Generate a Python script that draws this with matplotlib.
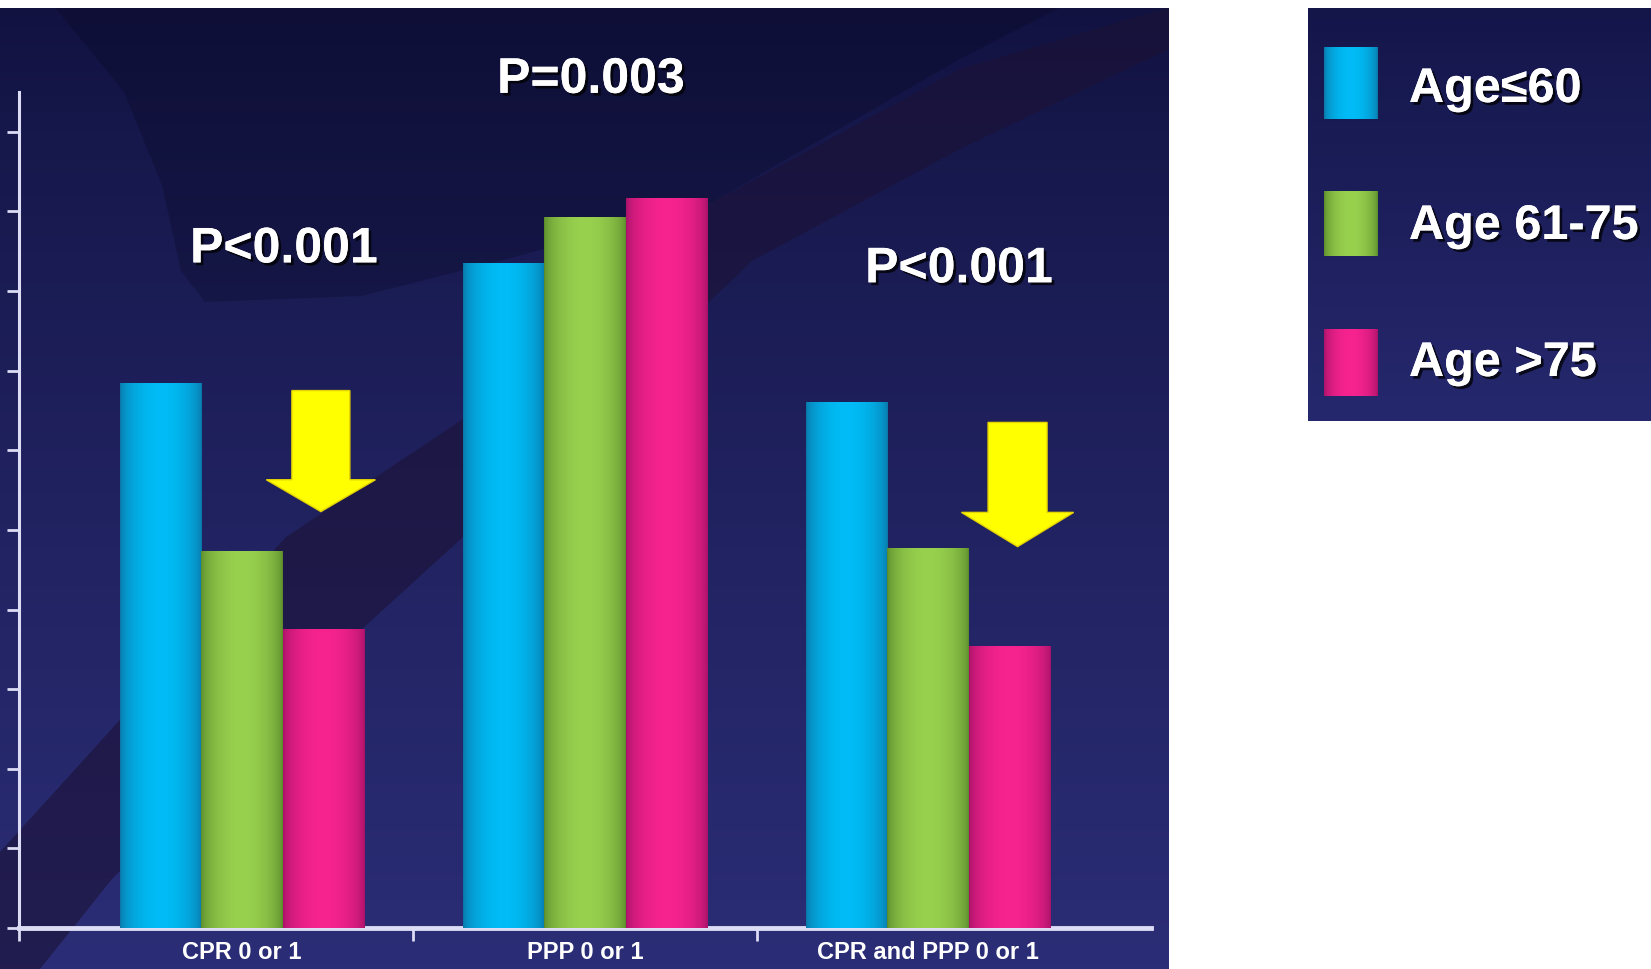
import numpy as np
import matplotlib
matplotlib.use("Agg")
import matplotlib.pyplot as plt
import matplotlib.patheffects as pe
from matplotlib.patches import Polygon, FancyArrow
from matplotlib.colors import to_rgb

W, H = 1651, 970

groups = ["CPR 0 or 1", "PPP 0 or 1", "CPR and PPP 0 or 1"]
age_labels = ["Age≤60", "Age 61-75", "Age >75"]
age_le60 = [68.4, 83.4, 66.0]
age_61_75 = [47.3, 89.2, 47.7]
age_gt75 = [37.5, 91.6, 35.3]
p_values = ["P<0.001", "P=0.003", "P<0.001"]

# (centre, edge) shade for each series, gives the rounded "cylinder" look
shades = [("#00bcf6", "#0a76a6"), ("#98d14e", "#5a8a2c"), ("#f7238f", "#a61268")]

FONT = ["Liberation Sans", "DejaVu Sans"]
TEXT_FX = [pe.withSimplePatchShadow(offset=(2, -2), shadow_rgbFace="black", alpha=0.75), pe.Normal()]
AXIS_COLOR = "#dcdcf5"


def cylinder(center, edge, n=96):
    t = np.linspace(0, 1, n)
    g = np.sin(np.pi * t) ** 0.55
    c_edge, c_mid = np.array(to_rgb(edge)), np.array(to_rgb(center))
    row = c_edge + (c_mid - c_edge) * g[:, None]
    return row[None, :, :]


def vertical_gradient(top, bottom, n=256, power=0.8):
    s = np.linspace(0, 1, n)[:, None] ** power
    a, b = np.array(to_rgb(top)), np.array(to_rgb(bottom))
    return (a + (b - a) * s)[:, None, :]


def draw_background(fig):
    # navy slide panel, pixel coordinates with y going down
    bg = fig.add_axes([0, 0, 1169 / W, (H - 8.5) / H], zorder=0)
    bg.set_xlim(0, 1169)
    bg.set_ylim(H, 8.5)
    bg.axis("off")
    bg.imshow(vertical_gradient("#111240", "#2b2d76"), extent=(0, 1169, H, 8.5), aspect="auto")

    # darker swooshes of the slide template
    top_shape = [(55, 8.5), (71, 28), (124, 93), (162, 186), (181, 272), (205, 303),
                 (361, 297), (500, 262), (711, 204), (960, 60), (1060, 8.5)]
    bg.add_patch(Polygon(top_shape, closed=True, facecolor="#07071f", alpha=0.28, lw=0))
    band = [(0, 853), (286, 538), (463, 420), (711, 204), (960, 70), (1169, 8.5),
            (1169, 50), (960, 150), (752, 262), (463, 538), (361, 631), (112, 880),
            (40, H), (0, H)]
    bg.add_patch(Polygon(band, closed=True, facecolor="#1c1236", alpha=0.6, lw=0))


def draw_bars(ax):
    x = np.arange(len(groups))
    width = 0.238
    offsets = [-width, 0.0, width]
    series = [age_le60, age_61_75, age_gt75]

    for i, values in enumerate(series):
        bars = ax.bar(x + offsets[i], values, width=width, color=shades[i][0],
                      linewidth=0, zorder=2, label=age_labels[i])
        # paint the shading over each bar
        for rect in bars:
            x0, w, h = rect.get_x(), rect.get_width(), rect.get_height()
            ax.imshow(cylinder(*shades[i]), extent=(x0, x0 + w, 0, h),
                      aspect="auto", interpolation="bilinear", zorder=3)


def draw_annotations(ax):
    # yellow arrows over the oldest group
    for xc, y_top, y_tip, shaft, head, head_len in [(0.230, 67.5, 52.3, 0.169, 0.318, 4.0),
                                                  (2.261, 63.5, 47.9, 0.172, 0.327, 4.3)]:
        ax.add_patch(FancyArrow(xc, y_top, 0, y_tip - y_top, width=shaft, head_width=head,
                                head_length=head_len, length_includes_head=True,
                                facecolor="#ffff00", edgecolor="#e6d400", lw=1, zorder=4))

    for (xt, yt), txt in zip([(0.122, 83.6), (1.017, 104.9), (2.09, 81.1)], p_values):
        ax.text(xt, yt, txt, ha="center", va="baseline", fontsize=36, weight="bold",
                color="white", family=FONT, path_effects=TEXT_FX, clip_on=False, zorder=5)


def draw_legend(fig):
    lg = fig.add_axes([1308 / W, (H - 422) / H, (W - 1308) / W, (422 - 8.5) / H], zorder=0)
    lg.set_xlim(1308, W)
    lg.set_ylim(422, 8.5)
    lg.axis("off")
    lg.imshow(vertical_gradient("#14164a", "#26286e", power=1.0),
              extent=(1308, W, 422, 8.5), aspect="auto")

    boxes = [(48, 120), (192, 257), (330, 397)]
    baselines = [103, 240, 377]
    for i, label in enumerate(age_labels):
        y0, y1 = boxes[i]
        lg.imshow(cylinder(*shades[i]), extent=(1324, 1378, y1, y0),
                  aspect="auto", interpolation="bilinear")
        lg.text(1409, baselines[i], label, ha="left", va="baseline", fontsize=35,
                weight="bold", color="white", family=FONT, path_effects=TEXT_FX)


def main():
    fig = plt.figure(figsize=(W / 100, H / 100), dpi=100, facecolor="white")
    draw_background(fig)

    ax = fig.add_axes([19 / W, (H - 929) / H, (1151 - 19) / W, (929 - 93) / H], zorder=1)
    ax.set_facecolor("none")

    draw_bars(ax)
    draw_annotations(ax)

    ax.set_xlim(-0.65, 2.65)
    ax.set_ylim(0, 105)

    for side in ["top", "right"]:
        ax.spines[side].set_visible(False)
    ax.spines["left"].set_color(AXIS_COLOR)
    ax.spines["left"].set_linewidth(2.2)
    ax.spines["bottom"].set_color(AXIS_COLOR)
    ax.spines["bottom"].set_linewidth(3.5)

    ax.set_yticks(np.arange(0, 101, 10))
    ax.tick_params(axis="y", direction="out", length=9, width=2, color=AXIS_COLOR, labelleft=False)

    ax.set_xticks([-0.65, 0.5, 1.5])
    ax.set_xticklabels([])
    ax.set_xticks(range(len(groups)), minor=True)
    ax.set_xticklabels(groups, minor=True)
    ax.tick_params(axis="x", which="major", direction="out", length=9, width=2, color=AXIS_COLOR)
    ax.tick_params(axis="x", which="minor", length=0, pad=9, labelsize=17, labelcolor="white")
    for lbl in ax.get_xticklabels(minor=True):
        lbl.set_fontweight("bold")
        lbl.set_family(FONT)

    draw_legend(fig)

    fig.savefig("out.png", dpi=100, facecolor="white")


if __name__ == "__main__":
    main()
